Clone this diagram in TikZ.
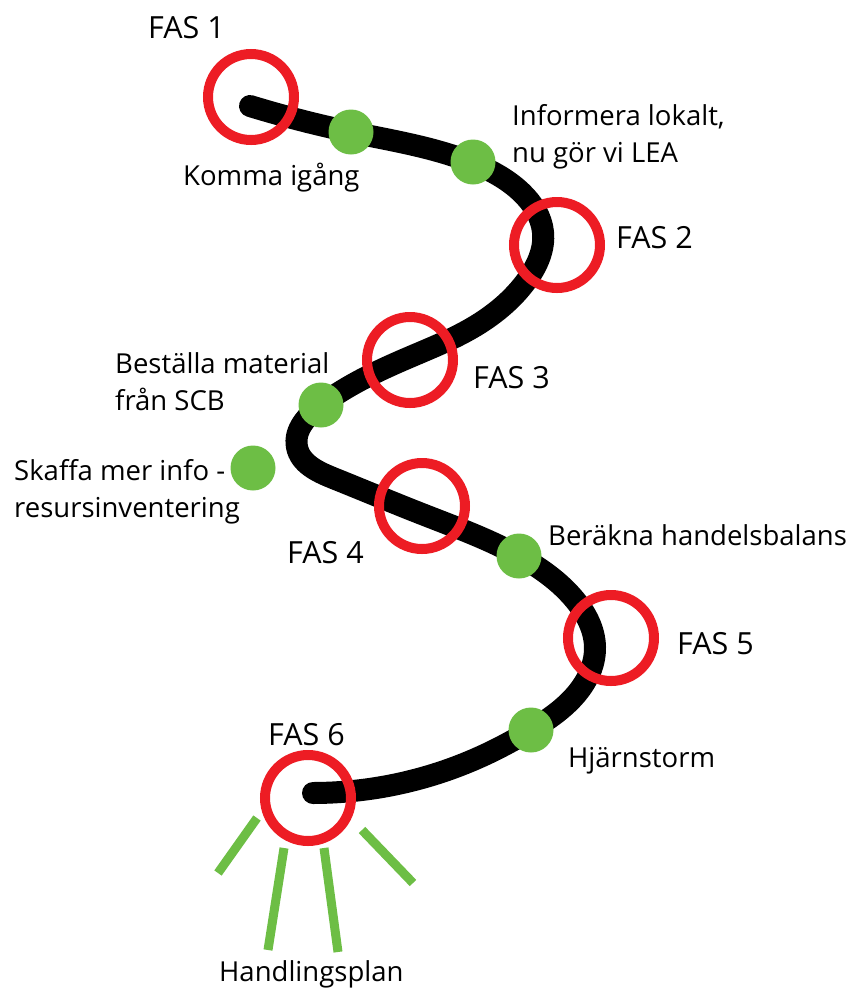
\documentclass[tikz,border=0pt]{standalone}
\usepackage{fontspec}
\setmainfont{Open Sans}
\usepackage{xcolor}
\usetikzlibrary{hobby}

\definecolor{fasred}{HTML}{ED1C24}
\definecolor{stepgreen}{HTML}{6DBE45}

\tikzset{
	fasring/.style = {circle, draw = fasred, line width = 10pt, minimum size = 86pt, inner sep = 0pt},
	stepdot/.style = {circle, fill = stepgreen, minimum size = 45pt, inner sep = 0pt},
	faslabel/.style = {font = \fontsize{30.5}{36}\selectfont, inner sep = 0pt},
	steplabel/.style = {font = \fontsize{27.5}{37}\selectfont, inner sep = 0pt, align = left},
}

\begin{document}
\begin{tikzpicture}[x = 1pt, y = -1pt]
	\useasboundingbox (0,0) rectangle (864,989);

	% the road
	\draw [line width = 22pt, line cap = round, use Hobby shortcut]
		(250,106) .. (351,132) .. (473,163) .. (522,193) .. (543,232) .. (527,280) .. (472,328)
		.. (410,357) .. (321,405) .. (297,447) .. (333,478) .. (422,514) .. (519,556)
		.. (575,600) .. (595,647) .. (571,700) .. (531,730) .. (480,757) .. (313,793);

	% steps along the road
	\foreach \name/\x/\y in {komma/351/132, info/473/162, scb/321/405, skaffa/253/468, balans/519/556, storm/531/730}
	{
		\node [stepdot] (\name) at (\x,\y) {};
	}

	% phases
	\node [fasring] (fas1) at (251,97) {};
	\node [fasring] (fas2) at (557,245) {};
	\node [fasring] (fas3) at (410,360) {};
	\node [fasring] (fas4) at (422,506) {};
	\node [fasring] (fas5) at (611,638) {};
	\node [fasring] (fas6) at (308,798) {};

	% action plan
	\begin{scope}[stepgreen, line width = 9pt]
		\foreach \a/\b/\c/\d in {257/818/218/873, 284/848/268/950, 324/848/338/952, 362/830/413/883}
		{
			\draw (\a,\b) -- (\c,\d);
		}
	\end{scope}

	\node [faslabel, anchor = base west] (t1) at (148,38) {FAS 1};
	\node [faslabel, anchor = base west] (t2) at (616,248) {FAS 2};
	\node [faslabel, anchor = base west] (t3) at (473,388) {FAS 3};
	\node [faslabel, anchor = base west] (t4) at (287,563) {FAS 4};
	\node [faslabel, anchor = base west] (t5) at (677,654) {FAS 5};
	\node [faslabel, anchor = base west] (t6) at (268,745) {FAS 6};

	% base of a two-line label is its last line
	\node [steplabel, anchor = base west] (komma label) at (183,185) {Komma igång};
	\node [steplabel, anchor = base west] (info label) at (512,162) {Informera lokalt,\\nu gör vi LEA};
	\node [steplabel, anchor = base west] (scb label) at (115,410) {Beställa material\\från SCB};
	\node [steplabel, anchor = base west] (skaffa label) at (14,517) {Skaffa mer info -\\resursinventering};
	\node [steplabel, anchor = base west] (balans label) at (548,545) {Beräkna handelsbalans};
	\node [steplabel, anchor = base west] (storm label) at (568,767) {Hjärnstorm};
	\node [steplabel, anchor = base west] (plan label) at (219,981) {Handlingsplan};
\end{tikzpicture}
\end{document}
